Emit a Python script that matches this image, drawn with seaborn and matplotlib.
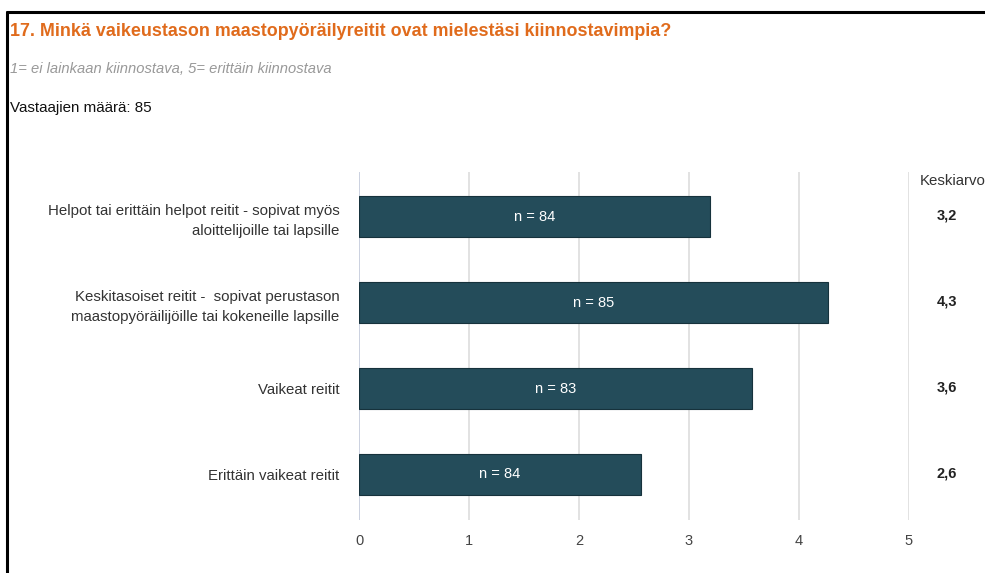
import matplotlib
matplotlib.use("Agg")
import matplotlib.pyplot as plt
from matplotlib.lines import Line2D
import pandas as pd
import seaborn as sns

categories = [
    "Helpot tai erittäin helpot reitit - sopivat myös\naloittelijoille tai lapsille",
    "Keskitasoiset reitit -  sopivat perustason\nmaastopyöräilijöille tai kokeneille lapsille",
    "Vaikeat reitit",
    "Erittäin vaikeat reitit",
]
means = [3.19, 4.26, 3.57, 2.56]
counts = [84, 85, 83, 84]
mean_labels = ["3,2", "4,3", "3,6", "2,6"]
ticks = [0, 1, 2, 3, 4, 5]

sns.set_style("white")
plt.rcParams["font.family"] = ["Liberation Sans", "DejaVu Sans"]

df = pd.DataFrame({"cat": categories, "mean": means})

fig = plt.figure(figsize=(9.85, 5.73), dpi=100)
ax = fig.add_axes([359 / 985, 1 - 520 / 573, 550 / 985, 348 / 573])

sns.barplot(data=df, x="mean", y="cat", orient="h", color="#244c5a",
            saturation=1, width=0.48, edgecolor="#16323c", linewidth=0.8,
            ax=ax, zorder=3)

ax.set_xlim(0, 5)
ax.set_ylim(3.53, -0.52)
ax.set_xticks(ticks)
ax.set_xticklabels([str(t) for t in ticks], color="#444444", fontsize=10.5)
ax.tick_params(axis="x", length=0, pad=10)
ax.tick_params(axis="y", length=0, pad=14)
for lab in ax.get_yticklabels():
    lab.set_color("#333333")
    lab.set_fontsize(10.8)
    lab.set_horizontalalignment("right")
    lab.set_multialignment("right")
    lab.set_linespacing(1.55)
ax.set_xlabel("")
ax.set_ylabel("")
ax.grid(axis="x", color="#dddddd", linewidth=1.2, zorder=0)
for s in ax.spines.values():
    s.set_visible(False)
ax.axvline(0, color="#c8cfe0", linewidth=1.2, zorder=1)

for i, n in enumerate(counts):
    ax.text(means[i] / 2, i, f"n = {n}", color="white", fontsize=10.5,
            ha="center", va="center", zorder=4)

fig.text(920 / 985, 1 - 181 / 573, "Keskiarvo", fontsize=10.8, color="#333333",
         ha="left", va="center")
for i, m in enumerate(mean_labels):
    y = ax.transData.transform((0, i))[1]
    fig.text(947 / 985, y / fig.bbox.height + 1 / 573, m, fontsize=10.5,
             fontweight="bold", color="#222222", ha="center", va="center")

fig.text(10 / 985, 1 - 31 / 573, "17. Minkä vaikeustason maastopyöräilyreitit ovat mielestäsi kiinnostavimpia?",
         fontsize=12.9, fontweight="bold", color="#e06b1c", ha="left", va="center")
fig.text(10 / 985, 1 - 69 / 573, "1= ei lainkaan kiinnostava, 5= erittäin kiinnostava",
         fontsize=10.6, style="italic", color="#999999", ha="left", va="center")
fig.text(10 / 985, 1 - 108 / 573, "Vastaajien määrä: 85",
         fontsize=10.9, color="#111111", ha="left", va="center")

# frame lines at top and left
fig.add_artist(Line2D([7 / 985, 1], [1 - 12 / 573, 1 - 12 / 573], color="black",
                      linewidth=2.2, transform=fig.transFigure))
fig.add_artist(Line2D([7 / 985, 7 / 985], [0, 1 - 12 / 573], color="black",
                      linewidth=2.2, transform=fig.transFigure))

fig.savefig("out.png", dpi=100)
